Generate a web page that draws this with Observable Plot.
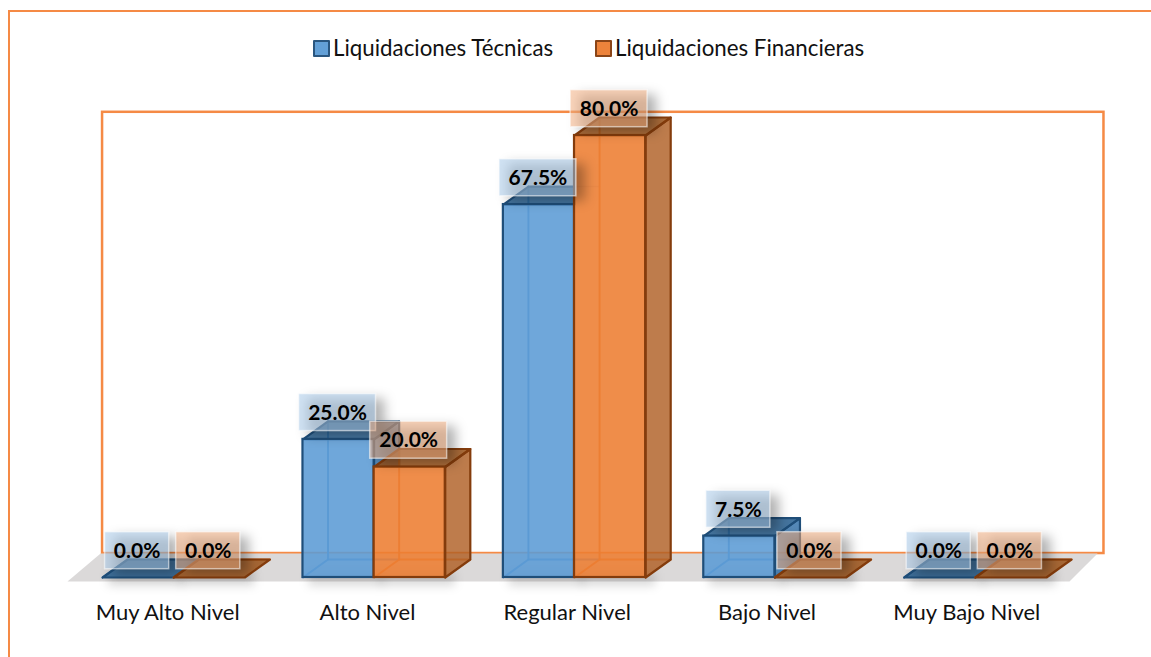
<!DOCTYPE html>
<html lang="es">
<head>
<meta charset="utf-8">
<script src="https://cdn.jsdelivr.net/npm/d3@7"></script>
<script src="https://cdn.jsdelivr.net/npm/@observablehq/plot@0.6"></script>
<style>
  html, body { margin: 0; padding: 0; background: #fff; overflow: hidden; }
  #page { position: relative; width: 1151px; height: 657px; overflow: hidden; font-family: Lato, "Open Sans", sans-serif; color: #111; }
  #outer { position: absolute; left: 8px; top: 10px; right: -10px; bottom: -10px; border-left: 2px solid #F58A45; border-top: 2px solid #F58A45; pointer-events: none; }
  #legend { position: relative; height: 90px; box-sizing: border-box; font-size: 22.3px; line-height: 24px; white-space: nowrap; }
  .key { position: absolute; top: 36px; display: flex; align-items: center; }
  .swatch { width: 13px; height: 13px; border: 2px solid; margin-right: 3px; border-radius: 1px; }
  #chart svg { display: block; overflow: visible; }
</style>
</head>
<body>
<div id="page">
  <div id="outer"></div>
  <div id="legend"></div>
  <div id="chart"></div>
</div>
<script>
const categories = ["Muy Alto Nivel", "Alto Nivel", "Regular Nivel", "Bajo Nivel", "Muy Bajo Nivel"];
const tecnicas = [0, 25, 67.5, 7.5, 0];
const financieras = [0, 20, 80, 0, 0];
const seriesNames = ["Liquidaciones Técnicas", "Liquidaciones Financieras"];

// Oblique 3-D projection, expressed in scale units
const depthX = 0.125, depthY = 3.26;
const barW = 0.355;
const tickSpacing = 0.9968;

const styles = [
  {front: "#5B9BD5", side: "#2F6FA8", top: "#245D8E", edge: "#1F4E79", inner: "#4A8CC9", box: "#A9CBE9", start: -0.325},
  {front: "#ED7D31", side: "#B05F25", top: "#9C5218", edge: "#843C0C", inner: "#E2762E", box: "#F4B084", start: 0.03}
];

const poly = (pts) => pts.map(([x, y]) => ({x, y}));
const blurred = (px) => function (index, scales, values, dimensions, context, next) {
  const g = next(index, scales, values, dimensions, context);
  g.style.filter = `blur(${px}px)`;
  return g;
};

function barMarks(values, st, neighbour) {
  const marks = [];
  const edgeOpts = {x: "x", y: "y", stroke: st.edge, strokeWidth: 2.2, strokeLinejoin: "round"};
  values.forEach((v, i) => {
    const x0 = i + st.start, x1 = x0 + barW;
    const X0 = x0 + depthX, X1 = x1 + depthX;
    const back = v + depthY;
    const base = neighbour ? neighbour[i] : 0;
    const hiddenByNeighbour = base >= v && v > 0;
    // interior edges, seen through the translucent faces
    marks.push(Plot.line(poly([[x0, 0], [X0, depthY], [X1, depthY]]),
      {x: "x", y: "y", stroke: st.inner, strokeWidth: 2, strokeOpacity: 0.9}));
    if (v > 0) marks.push(Plot.line(poly([[X0, depthY], [X0, back]]),
      {x: "x", y: "y", stroke: st.inner, strokeWidth: 2, strokeOpacity: 0.9}));
    // right side: the part behind a taller neighbour is not shown
    if (v > 0 && !hiddenByNeighbour) {
      marks.push(Plot.line(poly([[x1, base], [X1, base + (base ? 0 : depthY)], [X1, back], [x1, v], [x1, base]]),
        {...edgeOpts, fill: st.side, fillOpacity: 0.82}));
    }
    // top
    if (hiddenByNeighbour) {
      marks.push(Plot.line(poly([[x0, v], [x1, v], [x1, back], [X0, back], [x0, v]]),
        {...edgeOpts, fill: st.top, fillOpacity: 0.85}));
      marks.push(Plot.line(poly([[x1, back], [X1, back]]),
        {x: "x", y: "y", stroke: st.edge, strokeWidth: 1.5, strokeOpacity: 0.2}));
    } else {
      marks.push(Plot.line(poly([[x0, v], [x1, v], [X1, back], [X0, back], [x0, v]]),
        {...edgeOpts, fill: st.top, fillOpacity: 0.85}));
    }
    // front
    if (v > 0) marks.push(Plot.rect([{x0, x1, v}],
      {x1: "x0", x2: "x1", y1: 0, y2: "v", fill: st.front, fillOpacity: 0.88, stroke: st.edge, strokeWidth: 2.2}));
  });
  return marks;
}

function labelRows(values, st) {
  return values.map((v, i) => {
    const text = v.toFixed(1) + "%";
    return {
      text,
      cx: i + st.start + barW / 2 - 0.005,
      cy: v + 4.85,
      hw: text.length > 4 ? 0.192 : 0.16,
      hh: 3.35
    };
  });
}

function labelMarks(values, st) {
  const rows = labelRows(values, st);
  return [
    Plot.rect(rows, {
      x1: d => d.cx - d.hw + 0.045, x2: d => d.cx + d.hw + 0.045,
      y1: d => d.cy - d.hh - 0.9, y2: d => d.cy + d.hh - 0.9,
      fill: "#000", fillOpacity: 0.3, render: blurred(6)
    }),
    Plot.rect(rows, {
      x1: d => d.cx - d.hw, x2: d => d.cx + d.hw,
      y1: d => d.cy - d.hh, y2: d => d.cy + d.hh,
      fill: st.box, fillOpacity: 0.55, stroke: "#fff", strokeOpacity: 0.55, strokeWidth: 1.5
    })
  ];
}

function labelText(values, st) {
  return Plot.text(labelRows(values, st), {
    x: "cx", y: d => d.cy - 0.1, text: "text", fontSize: 21, fontWeight: 700, fill: "#000", fontFamily: "Lato, sans-serif"
  });
}

const floor = poly([[-0.5, -0.72], [4.5, -0.72], [4.64, 4.34], [-0.335, 4.34], [-0.5, -0.72]]);
const wall = [{x1: -0.325, x2: 4.672, y1: 4.34, y2: 84.2}];

const plot = Plot.plot({
  width: 1151,
  height: 567,
  marginLeft: 67,
  marginRight: 82,
  marginTop: 45,
  marginBottom: 80,
  x: {domain: [-0.5, 4.5], axis: null},
  y: {domain: [0, 80], axis: null},
  style: {background: "transparent", overflow: "visible"},
  marks: [
    Plot.rect(wall, {x1: "x1", x2: "x2", y1: "y1", y2: "y2", fill: "none", stroke: "#F58A45", strokeWidth: 2.5}),
    Plot.line(floor, {x: "x", y: "y", fill: "#DBD9D9", stroke: "none"}),
    Plot.rect(categories.flatMap((c, i) => [0, 1].map((s) => ({i, s}))), {
      x1: d => d.i + styles[d.s].start + 0.03, x2: d => d.i + styles[d.s].start + barW + 0.05,
      y1: -1.6, y2: 0.8, fill: "#000", fillOpacity: 0.14, render: blurred(5)
    }),
    ...barMarks(tecnicas, styles[0], financieras),
    ...barMarks(financieras, styles[1]),
    ...labelMarks(tecnicas, styles[0]),
    ...labelMarks(financieras, styles[1]),
    labelText(tecnicas, styles[0]),
    labelText(financieras, styles[1]),
    Plot.axisX(d3.range(categories.length).map(i => i * tickSpacing), {
      anchor: "bottom",
      tickSize: 0,
      tickPadding: 27,
      tickFormat: i => categories[Math.round(i)],
      fontSize: 22,
      fontFamily: "Lato, sans-serif",
      fill: "#111",
      label: null
    })
  ]
});
document.getElementById("chart").appendChild(plot);

// Legend
const legend = d3.select("#legend");
seriesNames.forEach((name, s) => {
  const key = legend.append("div").attr("class", "key").style("left", (s === 0 ? 313 : 595) + "px");
  key.append("div").attr("class", "swatch")
    .style("background", styles[s].front).style("opacity", 0.95).style("border-color", styles[s].edge);
  key.append("span").text(name);
});
</script>
</body>
</html>
